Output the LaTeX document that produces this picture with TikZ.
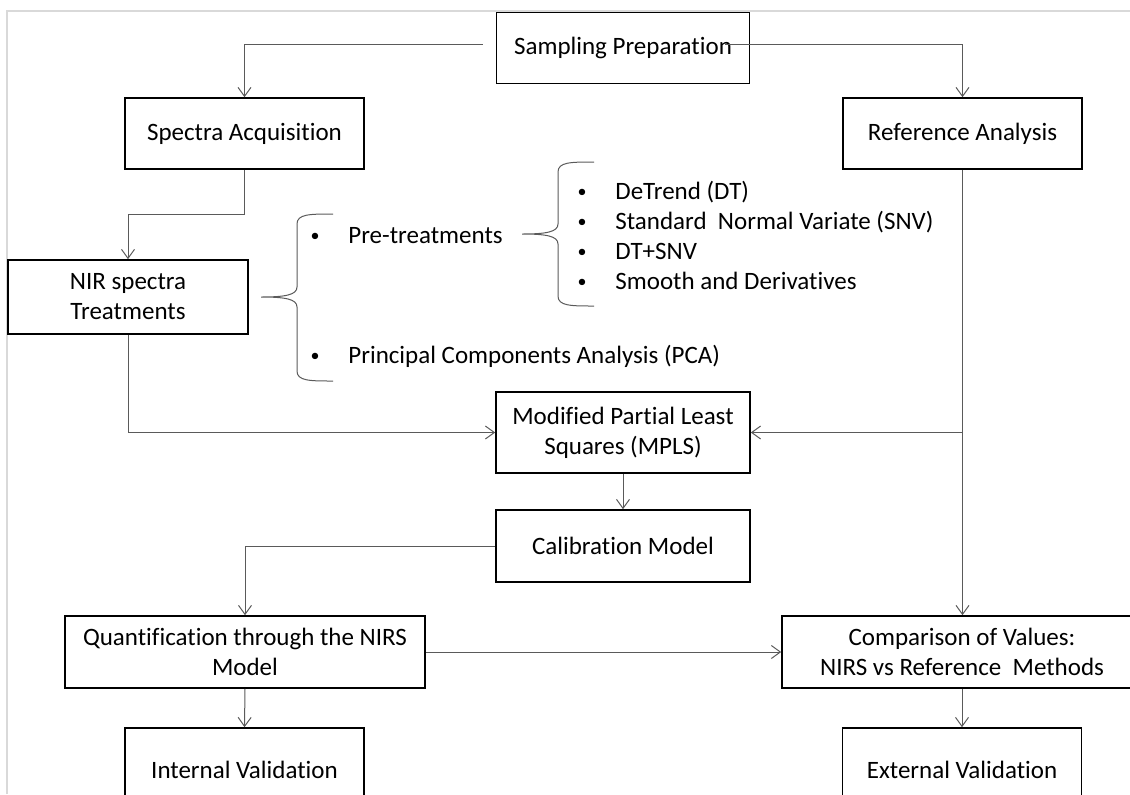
\documentclass[tikz,border=0pt]{standalone}
\usepackage{fontspec}
\setmainfont[Ligatures=NoCommon]{Carlito}
\usetikzlibrary{arrows.meta}
\definecolor{framegray}{RGB}{217,217,217}
\definecolor{linkgray}{RGB}{90,90,90}
\newcommand{\dotmark}{\makebox[19.5pt][l]{\hspace{0.6pt}\raisebox{0.9pt}{\fontsize{9}{9}\selectfont\textbullet}}}

\begin{document}
\begin{tikzpicture}[x=0.5pt, y=-0.5pt,
  every node/.style={font=\fontsize{12.5}{15}\selectfont, inner sep=0pt},
  box/.style={draw, line width=0.8pt, align=center},
  link/.style={draw=linkgray, line width=0.5pt, -{Straight Barb[length=4.5pt,width=6.5pt]}},
  brace/.style={draw=linkgray, line width=0.5pt},
  bullet/.style={anchor=west, text height=9pt, text depth=3pt}]
\useasboundingbox (0,0) rectangle (1130,794);
\draw[framegray, line width=0.65pt] (7,794) -- (7,11) -- (1130,11);

\node[box, minimum width=126.5pt, minimum height=35.5pt] (samp) at (623,48) {Sampling Preparation};
\node[box, minimum width=119.5pt, minimum height=35.5pt] (spec) at (244.5,133.5) {Spectra Acquisition};
\node[box, minimum width=119.5pt, minimum height=35.5pt] (ref) at (962.5,133.5) {Reference Analysis};
\node[box, minimum width=120pt, minimum height=37pt] (nir) at (128,297) {NIR spectra\\Treatments};
\node[box, minimum width=127pt, minimum height=40.5pt] (mpls) at (623,432.5) {Modified Partial Least\\Squares (MPLS)};
\node[box, minimum width=127pt, minimum height=36pt] (calib) at (623,546) {Calibration Model};
\node[box, minimum width=180pt, minimum height=36pt] (quant) at (245,652) {Quantification through the NIRS\\Model};
\node[box, minimum width=180pt, minimum height=36pt] (comp) at (962,652) {Comparison of Values:\\NIRS vs Reference~ Methods};
\node[box, minimum width=119.5pt, minimum height=42pt] (intv) at (244.5,770) {Internal Validation};
\node[box, minimum width=119.5pt, minimum height=42pt] (extv) at (962,770) {External Validation};

% treatments
\node[bullet] (pre) at (309,237) {\dotmark Pre-treatments};
\node[bullet] (pca) at (309,357) {\dotmark Principal Components Analysis (PCA)};
\node[bullet] (dt) at (576,193) {\dotmark DeTrend (DT)};
\node[bullet] (snv) at (576,223) {\dotmark Standard~ Normal Variate (SNV)};
\node[bullet] (dtsnv) at (576,253) {\dotmark DT+SNV};
\node[bullet] (smd) at (576,283) {\dotmark Smooth and Derivatives};

\draw[brace] (333,214) .. controls (310,214) and (297,214) .. (297,224) -- (297,287) .. controls (297,295) and (285,297) .. (261,297) .. controls (285,297) and (297,299) .. (297,307) -- (297,371) .. controls (297,381) and (310,381) .. (333,381);
\draw[brace] (594,162) .. controls (571,162) and (558,162) .. (558,172) -- (558,224) .. controls (558,232) and (546,234) .. (522,234) .. controls (546,234) and (558,236) .. (558,244) -- (558,296) .. controls (558,306) and (571,306) .. (594,306);

\coordinate (jn) at (ref.south |- mpls.east);
\draw[link] ([shift={(-13,-4)}]samp.west) -| (spec.north);
\draw[link] ([shift={(-25,-4)}]samp.east) -| (ref.north);
\draw[link] (spec.south) -- ++(0,45) -| (nir.north);
\draw[link] (nir.south) |- (mpls.west);
\draw[link] (ref.south) -- (ref.south |- comp.north);
\draw[link] (jn) -- (mpls.east);
\draw[link] (mpls.south) -- (calib.north);
\draw[link] (calib.west) -| (quant.north);
\draw[link] (quant.east) -- (comp.west);
\draw[link] (quant.south) -- (intv.north);
\draw[link] (comp.south) -- (extv.north);
\end{tikzpicture}
\end{document}
